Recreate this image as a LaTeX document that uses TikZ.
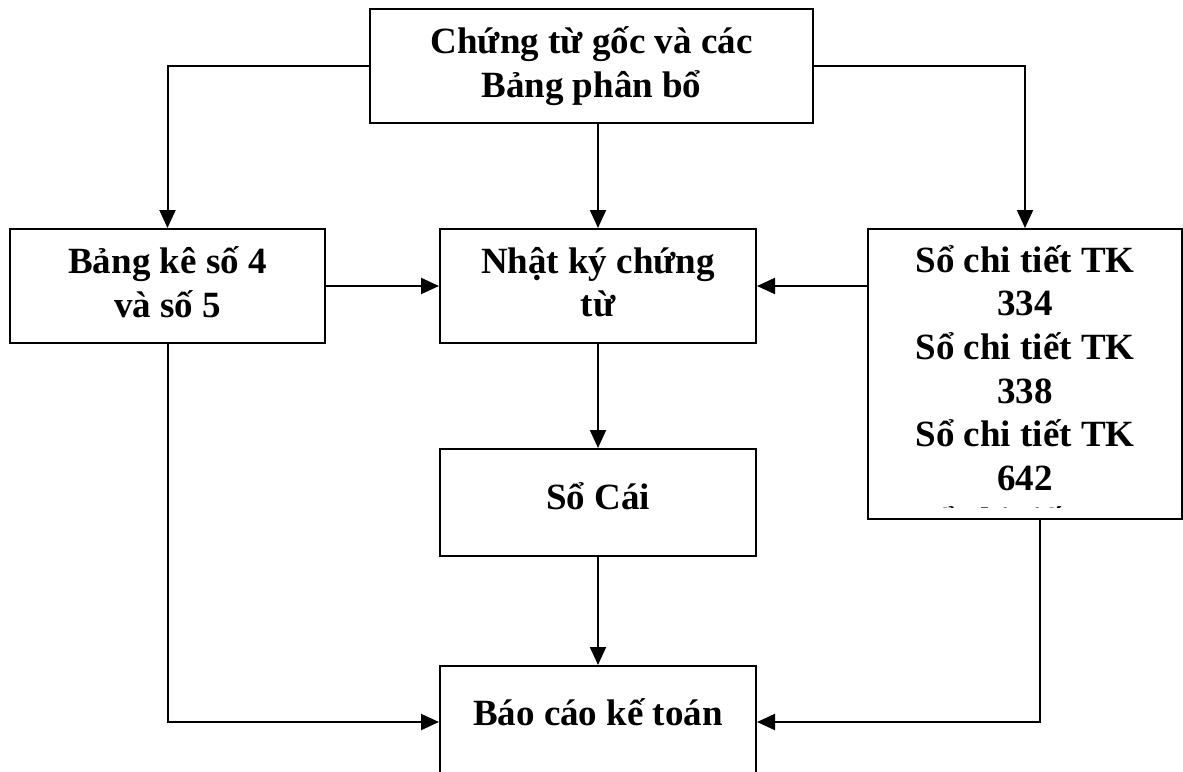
\documentclass[tikz,border=0pt]{standalone}
\usepackage{fontspec}
\setmainfont{Liberation Serif}
\usetikzlibrary{arrows.meta}
\tikzset{
  hop/.style={draw,line width=1pt,align=center,inner sep=0pt,font=\fontsize{18.5}{21.8}\selectfont\bfseries},
  chu/.style={align=center,inner sep=0pt,font=\fontsize{18.5}{21.8}\selectfont\bfseries},
  mui/.style={-{Triangle[length=9pt,width=8pt]},line width=1pt}
}
\begin{document}
\begin{tikzpicture}[x=0.5pt,y=-0.5pt]
 \useasboundingbox (0,0) rectangle (1183,771);
 \node[hop,minimum width=221.5pt,minimum height=57pt] (goc) at (591.5,66) {Chứng từ gốc và các\\Bảng phân bổ};
 \node[hop,minimum width=157.5pt,minimum height=57pt,text depth=4pt] (bk) at (167.5,286) {Bảng kê số 4\\và số 5};
 \node[hop,minimum width=158pt,minimum height=57pt,text depth=4pt] (nk) at (598,286) {Nhật ký chứng\\từ};
 \node[hop,minimum width=157pt,minimum height=145pt] (sct) at (1025,374) {};
 \node[hop,minimum width=158pt,minimum height=53.5pt,text depth=6pt] (socai) at (598,502.5) {Sổ Cái};
 \node[hop,minimum width=158pt,minimum height=56pt,text depth=10pt] (bc) at (598,722) {Báo cáo kế toán};
 \begin{scope}
  \clip (sct.north west) rectangle ([yshift=6.5pt]sct.south east);
  \node[chu,anchor=north] (sctt) at ([yshift=-8.5pt]sct.north) {Sổ chi tiết TK\\334\\Sổ chi tiết TK\\338\\Sổ chi tiết TK\\642\\Sổ chi tiết TK};
 \end{scope}
 \draw[mui] (goc.west) -| (bk.north);
 \draw[mui] (goc.south -| nk.north) -- (nk.north);
 \draw[mui] (goc.east) -| (sct.north);
 \draw[mui] (bk.east) -- (nk.west);
 \draw[mui] (nk.east -| sct.west) -- (nk.east);
 \draw[mui] (nk.south) -- (socai.north);
 \draw[mui] (socai.south) -- (bc.north);
 \draw[mui] (bk.south) |- (bc.west);
 \draw[mui] ([xshift=7.5pt]sct.south) |- (bc.east);
\end{tikzpicture}
\end{document}
